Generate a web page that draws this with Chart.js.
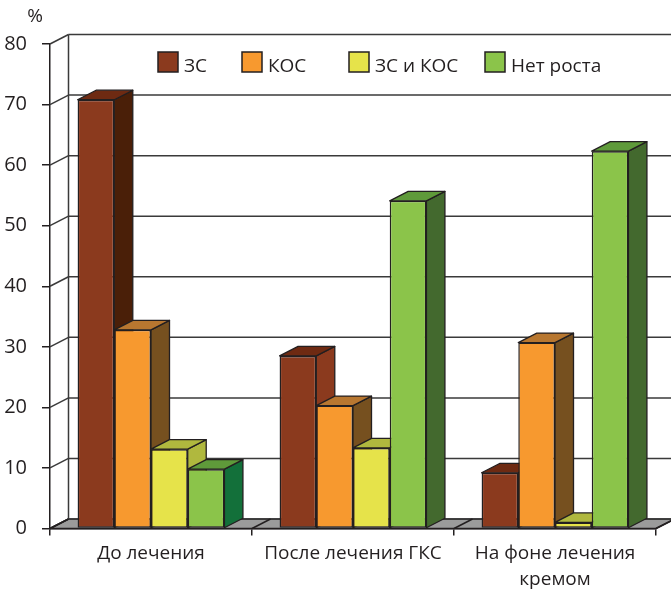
<!DOCTYPE html>
<html>
<head>
<meta charset="utf-8">
<script src="https://cdn.jsdelivr.net/npm/chart.js@4.4.1/dist/chart.umd.min.js"></script>
<style>
  html, body { margin: 0; padding: 0; background: #fff; }
</style>
</head>
<body>
<canvas id="grafica" width="671" height="592"></canvas>
<script>
// данные с рисунка
const categories = ['До лечения', 'После лечения ГКС', ['На фоне лечения', 'кремом']];
const seriesNames = ['ЗС', 'КОС', 'ЗС и КОС', 'Нет роста'];
const zs = [70.8, 28.5, 9.2];
const kos = [32.8, 20.3, 30.7];
const zsKos = [13.1, 13.3, 1.0];
const noGrowth = [9.8, 54.1, 62.3];
const yTicks = [0, 10, 20, 30, 40, 50, 60, 70, 80];

// цвета: лицевая грань, боковая, верхняя
const frontColors = ['#8b3a1e', '#f7992f', '#e6e34a', '#8bc44a'];
const sideColors = [
  ['#4a1f08', '#8b3a1e', '#4a1f08'],
  ['#76501f', '#76501f', '#76501f'],
  ['#b0b83e', '#b0b83e', '#b0b83e'],
  ['#13703a', '#43692e', '#43692e']
];
const topColors = ['#6e2a12', '#b87730', '#b0b83e', '#5f9a3a'];

const DX = 18.5, DY = -9.5;
const LINE = '#231f20';
const FONT = '"Open Sans", sans-serif';

let linea = (ctx, x1, y1, x2, y2) => {
  ctx.beginPath();
  ctx.moveTo(x1, y1);
  ctx.lineTo(x2, y2);
  ctx.stroke();
}

let poligono = (ctx, pts, fill) => {
  ctx.beginPath();
  ctx.moveTo(pts[0][0], pts[0][1]);
  pts.slice(1).forEach(p => ctx.lineTo(p[0], p[1]));
  ctx.closePath();
  ctx.fillStyle = fill;
  ctx.fill();
  ctx.stroke();
}

const caja3d = {
  id: 'caja3d',
  beforeDatasetsDraw(chart) {
    const { ctx, chartArea: a, scales: { x, y } } = chart;
    const y0 = y.getPixelForValue(0);
    const yTop = y.getPixelForValue(80);
    ctx.save();
    ctx.strokeStyle = LINE;
    ctx.lineWidth = 1.5;

    // пол
    ctx.lineJoin = 'round';
    poligono(ctx, [[a.left, y0], [a.right, y0], [a.right + DX, y0 + DY], [a.left + DX, y0 + DY]], '#9b9b9b');

    // задняя стенка и левая стенка
    ctx.strokeStyle = '#3a3a3a';
    yTicks.forEach(v => {
      const py = y.getPixelForValue(v);
      linea(ctx, a.left + DX, py + DY, chart.width, py + DY);
      linea(ctx, a.left, py, a.left + DX, py + DY);
    });
    linea(ctx, a.left + DX, yTop + DY, a.left + DX, y0 + DY);

    // диагонали на полу между группами
    ctx.strokeStyle = LINE;
    for (let j = 0; j <= categories.length; j++) {
      const px = a.left + (a.right - a.left) * j / categories.length;
      linea(ctx, px, y0, px + DX, y0 + DY);
    }

    // боковые и верхние грани
    ctx.lineWidth = 1.3;
    for (let j = 0; j < categories.length; j++) {
      chart.data.datasets.forEach((ds, i) => {
        const bar = chart.getDatasetMeta(i).data[j];
        const L = bar.x - bar.width / 2, R = bar.x + bar.width / 2;
        const T = bar.y, B = bar.base;
        poligono(ctx, [[R, B], [R + DX, B + DY], [R + DX, T + DY], [R, T]], sideColors[i][j]);
        poligono(ctx, [[L, T], [R, T], [R + DX, T + DY], [L + DX, T + DY]], topColors[i]);
      });
    }
    ctx.restore();
  },
  afterDraw(chart) {
    const ctx = chart.ctx;
    ctx.save();
    ctx.fillStyle = LINE;
    ctx.font = '19px ' + FONT;
    ctx.textAlign = 'center';
    ctx.textBaseline = 'middle';
    ctx.fillText('%', 35, 17);

    // легенда
    const legendX = [158, 242, 349, 485];
    ctx.textAlign = 'left';
    ctx.textBaseline = 'alphabetic';
    ctx.lineWidth = 1.5;
    ctx.strokeStyle = LINE;
    seriesNames.forEach((n, i) => {
      ctx.fillStyle = frontColors[i];
      ctx.fillRect(legendX[i], 52, 20, 20);
      ctx.strokeRect(legendX[i], 52, 20, 20);
      ctx.fillStyle = LINE;
      ctx.fillText(n, legendX[i] + 26, 72);
    });
    ctx.restore();
  }
}

const valores = [zs, kos, zsKos, noGrowth];

new Chart(document.getElementById('grafica').getContext('2d'), {
  type: 'bar',
  data: {
    labels: categories,
    datasets: seriesNames.map((n, i) => ({
      label: n,
      data: valores[i],
      backgroundColor: frontColors[i],
      borderColor: LINE,
      borderWidth: 1.5,
      borderSkipped: false,
      barPercentage: 1,
      categoryPercentage: 0.727
    }))
  },
  options: {
    responsive: false,
    animation: false,
    layout: { padding: { top: 44, right: 15, left: 0, bottom: 0 } },
    plugins: { legend: { display: false }, tooltip: { enabled: false } },
    scales: {
      x: {
        grid: { drawOnChartArea: false, tickLength: 7, color: LINE, lineWidth: 1.5 },
        border: { color: LINE, width: 1.5 },
        ticks: { font: { family: FONT, size: 19, lineHeight: 1.32 }, color: LINE, padding: 6, maxRotation: 0 },
        afterFit(s) { s.height = 63.5 }
      },
      y: {
        min: 0,
        max: 80,
        ticks: { stepSize: 10, font: { family: FONT, size: 20 }, color: LINE, padding: 15 },
        grid: { drawOnChartArea: false, tickLength: 8, color: LINE, lineWidth: 1.5 },
        border: { color: LINE, width: 1.5 },
        afterFit(s) { s.width = 50 }
      }
    }
  },
  plugins: [caja3d]
});
</script>
</body>
</html>
